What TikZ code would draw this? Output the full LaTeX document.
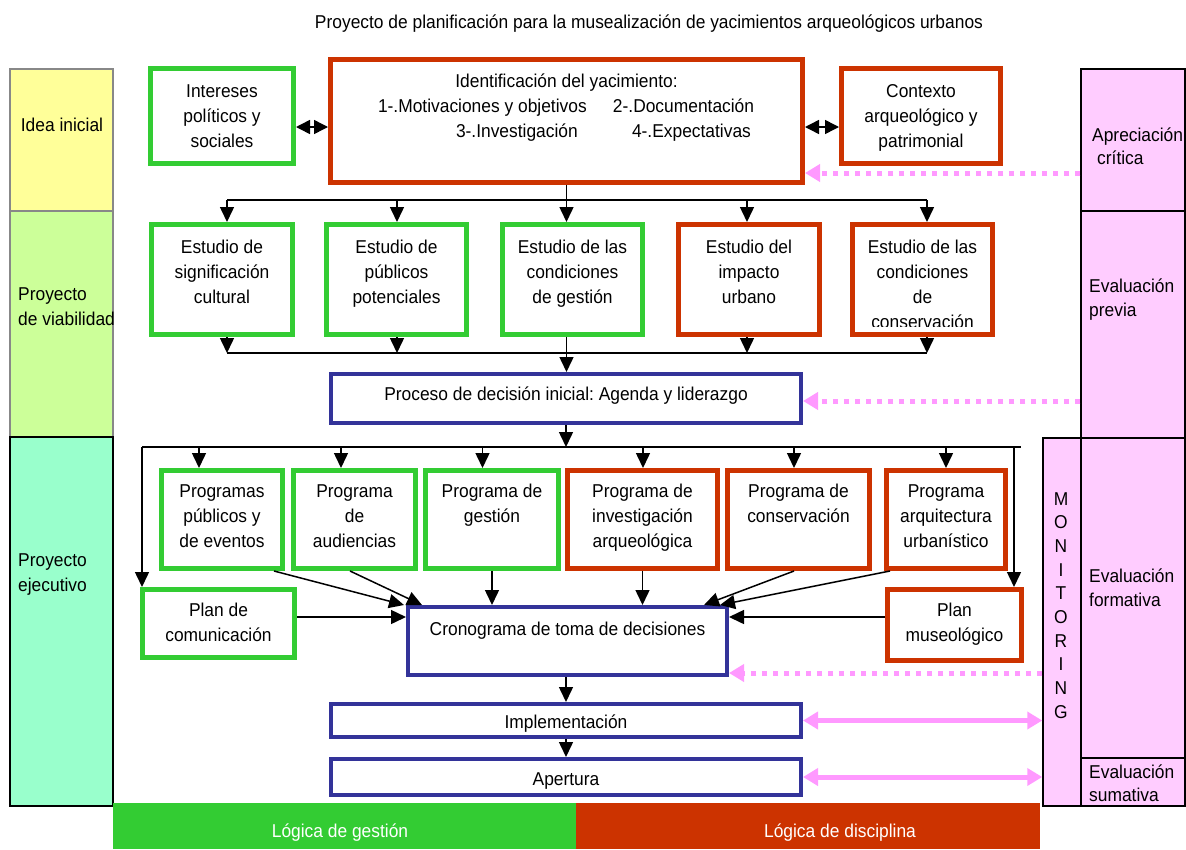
\documentclass[tikz,border=0pt]{standalone}
\usepackage{fontspec}
\setmainfont[FakeStretch=0.935]{Liberation Sans}
\usetikzlibrary{arrows.meta}
\definecolor{cg}{RGB}{51,204,51}
\definecolor{cr}{RGB}{204,51,0}
\definecolor{cb}{RGB}{51,51,153}
\definecolor{cpk}{RGB}{255,153,255}
\definecolor{cpkf}{RGB}{255,204,255}
\definecolor{cy}{RGB}{255,255,153}
\definecolor{clg}{RGB}{204,255,153}
\definecolor{caq}{RGB}{153,255,204}
\definecolor{cgr}{RGB}{136,136,136}
\frenchspacing
\newcommand{\fsz}{\fontsize{18.6pt}{25pt}\selectfont}
\newcommand{\tbx}[4]{\parbox[c][#2pt][t]{#1pt}{\centering\rule{0pt}{#3pt}#4\par}}
\begin{document}
\begin{tikzpicture}[x=1pt,y=-1pt,
  bx/.style={line width=5pt, fill=white, inner sep=0pt, font=\fsz},
  gbox/.style={bx, draw=cg},
  rbox/.style={bx, draw=cr},
  bbox/.style={bx, draw=cb, line width=4pt},
  wire/.style={line width=1.5pt},
  conn/.style={line width=1.5pt, -{Triangle[length=15pt,width=14pt]}},
  dbl/.style={line width=1.5pt, {Triangle[length=14pt,width=14pt]}-{Triangle[length=14pt,width=14pt]}},
  pdot/.style={draw=cpk, line width=5pt, dash pattern=on 5pt off 6pt, -{Triangle[length=15pt,width=17pt]}},
  pdbl/.style={draw=cpk, line width=5pt, {Triangle[length=15pt,width=17pt]}-{Triangle[length=15pt,width=17pt]}},
  colbox/.style={line width=1.5pt, inner sep=0pt},
  lab/.style={font=\fsz, inner sep=0pt, anchor=base west},
]
\useasboundingbox (0,0) rectangle (1186,849);

% title
\node[font=\fsz, inner sep=0pt, anchor=base] (title) at (649,28) {Proyecto de planificación para la musealización de yacimientos arqueológicos urbanos};

% left column
\node[colbox, draw=cgr, fill=cy, minimum width=103pt, minimum height=142pt] (idea) at (61.5,140) {};
\node[colbox, draw=cgr, fill=clg, minimum width=103pt, minimum height=226pt] (viab) at (61.5,324) {};
\node[colbox, draw=black, fill=caq, minimum width=103pt, minimum height=369pt] (ejec) at (61.5,621.5) {};
\node[font=\fsz, inner sep=0pt, anchor=base] (ideat) at (62,131) {Idea inicial};
\node[lab] (viabt) at (18,300) {\parbox[t]{110pt}{Proyecto\\de viabilidad}};
\node[lab] (eject) at (18,566) {\parbox[t]{110pt}{Proyecto\\ejecutivo}};

% right column
\node[colbox, draw=black, fill=cpkf, minimum width=104pt, minimum height=142pt] (apr) at (1133,140) {};
\node[colbox, draw=black, fill=cpkf, minimum width=104pt, minimum height=227pt] (prev) at (1133,324.5) {};
\node[colbox, draw=black, fill=cpkf, minimum width=104pt, minimum height=320pt] (form) at (1133,598) {};
\node[colbox, draw=black, fill=cpkf, minimum width=104pt, minimum height=48pt] (sum) at (1133,782) {};
\node[colbox, draw=black, fill=cpkf, minimum width=38pt, minimum height=368pt] (mon) at (1062,622) {};
\node[lab] (aprt) at (1092,141) {\fontsize{18.6pt}{23pt}\selectfont\parbox[t]{95pt}{Apreciación\\\hspace*{5pt}crítica}};
\node[lab] (prevt) at (1089,292) {\fontsize{18.6pt}{24pt}\selectfont\parbox[t]{95pt}{Evaluación\\previa}};
\node[lab] (formt) at (1089,582) {\fontsize{18.6pt}{24pt}\selectfont\parbox[t]{95pt}{Evaluación\\formativa}};
\node[lab] (sumt) at (1089,778) {\fontsize{18.6pt}{23pt}\selectfont\parbox[t]{95pt}{Evaluación\\sumativa}};
\node[inner sep=0pt, anchor=base] (mont) at (1061,505) {\fontsize{18.6pt}{23.7pt}\selectfont\parbox[t]{24pt}{\centering M\\O\\N\\I\\T\\O\\R\\I\\N\\G}};

% bottom bars
\node[inner sep=0pt, fill=cg, minimum width=463pt, minimum height=46pt] (gest) at (344.5,826) {};
\node[inner sep=0pt, fill=cr, minimum width=464pt, minimum height=46pt] (disc) at (808,826) {};
\node[font=\fsz, text=white, inner sep=0pt, anchor=base] (gestt) at (340,837) {Lógica de gestión};
\node[font=\fsz, text=white, inner sep=0pt, anchor=base] (disct) at (840,837) {Lógica de disciplina};

% top row
\node[gbox] (int) at (222,116) {\tbx{143}{95}{28.5}{Intereses\\políticos y\\sociales}};
\node[rbox] (ident) at (566.5,121) {\parbox[c][123pt][t]{472pt}{\rule{0pt}{27.5pt}\makebox[472pt][c]{Identificación del yacimiento:}\\
\makebox[472pt][l]{\hspace*{47.5pt}\rlap{1-.Motivaciones y objetivos}\hspace*{235pt}\rlap{2-.Documentación}}\\
\makebox[472pt][l]{\hspace*{125.5pt}\rlap{3-.Investigación}\hspace*{176pt}\rlap{4-.Expectativas}}\par}};
\node[rbox] (ctx) at (921,116) {\tbx{159}{95}{28.5}{Contexto\\arqueológico y\\patrimonial}};

% estudios
\node[gbox] (e1) at (222,279.5) {\tbx{141}{110}{28.5}{Estudio de\\significación\\cultural}};
\node[gbox] (e2) at (396.5,279.5) {\tbx{140}{110}{28.5}{Estudio de\\públicos\\potenciales}};
\node[gbox] (e3) at (572.5,279.5) {\tbx{140}{110}{28.5}{Estudio de las\\condiciones\\de gestión}};
\node[rbox] (e4) at (749,279.5) {\tbx{141}{110}{28.5}{Estudio del\\impacto\\urbano}};
\node[rbox] (e5) at (922.5,279.5) {\tbx{140}{110}{28.5}{}};
\begin{scope}
\clip (855,227) rectangle (990,326);
\node[inner sep=0pt, font=\fsz] (e5t) at (e5.center) {\tbx{140}{110}{28.5}{Estudio de las\\condiciones\\de\\conservación}};
\end{scope}

% proceso
\node[bbox] (proc) at (566,398.5) {\tbx{470}{49}{26}{Proceso de decisión inicial: Agenda y liderazgo}};

% programas
\node[gbox] (p1) at (222,519.5) {\tbx{121}{98}{26.5}{Programas\\públicos y\\de eventos}};
\node[gbox] (p2) at (354.5,519.5) {\tbx{122}{98}{26.5}{Programa\\de\\audiencias}};
\node[gbox] (p3) at (492,519.5) {\tbx{133}{98}{26.5}{Programa de\\gestión}};
\node[rbox] (p4) at (642.5,519.5) {\tbx{150}{98}{26.5}{Programa de\\investigación\\arqueológica}};
\node[rbox] (p5) at (798.5,519.5) {\tbx{142}{98}{26.5}{Programa de\\conservación}};
\node[rbox] (p6) at (946,519.5) {\tbx{119}{98}{26.5}{Programa\\arquitectura\\urbanístico}};

\node[gbox] (com) at (218.5,623.5) {\tbx{152}{68}{26.5}{Plan de\\comunicación}};
\node[rbox] (mus) at (954.5,625) {\tbx{134}{71}{26.5}{Plan\\museológico}};
\node[bbox] (cron) at (567.5,641) {\tbx{319}{68}{28}{Cronograma de toma de decisiones}};

\node[bbox] (impl) at (566,720.5) {\tbx{470}{33}{24}{Implementación}};
\node[bbox] (ap) at (566,777) {\tbx{470}{36}{26}{Apertura}};

% helper coordinates
\coordinate (y127) at (0,127);
\coordinate (y173) at (0,173);
\coordinate (y401) at (0,401);
\coordinate (y617) at (0,617);
\coordinate (y673) at (0,673);
\coordinate (b1a) at (227,200);
\coordinate (b1c) at (397,200);
\coordinate (b1d) at (747,200);
\coordinate (b1b) at (927,200);
\coordinate (b2a) at (227,353);
\coordinate (b2c) at (397,353);
\coordinate (b2d) at (747,353);
\coordinate (b2b) at (927,353);
\coordinate (b3a) at (142,447);
\coordinate (b3e) at (1021,447);
\coordinate (b3r) at (1014,447);
\coordinate (q1) at (199,447);
\coordinate (q2) at (341,447);
\coordinate (q3) at (482.5,447);
\coordinate (q4) at (643,447);
\coordinate (q5) at (794,447);
\coordinate (q6) at (946,447);

% top double arrows
\draw[dbl] (int.east |- y127) -- (ident.west |- y127);
\draw[dbl] (ident.east |- y127) -- (ctx.west |- y127);

% bus 1
\draw[wire] (b1a) -- (b1b);
\draw[conn] (ident.south) -- (ident.south |- e3.north);
\draw[conn] (b1a) -- (b1a |- e1.north);
\draw[conn] (b1c) -- (b1c |- e2.north);
\draw[conn] (b1d) -- (b1d |- e4.north);
\draw[conn] (b1b) -- (b1b |- e5.north);

% bus 2
\draw[wire] (b2a) -- (b2b);
\draw[conn] (b2a |- e1.south) -- (b2a);
\draw[conn] (b2c |- e2.south) -- (b2c);
\draw[conn] (b2d |- e4.south) -- (b2d);
\draw[conn] (b2b |- e5.south) -- (b2b);
\draw[conn] (ident.south |- e3.south) -- (ident.south |- proc.north);

% bus 3
\draw[conn] (proc.south) -- (proc.south |- b3a);
\draw[wire] (b3a) -- (b3e);
\draw[conn] (b3a) -- (b3a |- com.north);
\draw[conn] (b3r) -- (b3r |- mus.north);
\draw[conn] (q1) -- (q1 |- p1.north);
\draw[conn] (q2) -- (q2 |- p2.north);
\draw[conn] (q3) -- (q3 |- p3.north);
\draw[conn] (q4) -- (q4 |- p4.north);
\draw[conn] (q5) -- (q5 |- p5.north);
\draw[conn] (q6) -- (q6 |- p6.north);

% into cronograma
\draw[conn] ([xshift=-11pt]p1.south east) -- ([xshift=-2pt]cron.north west);
\draw[conn] ([xshift=-4.5pt]p2.south) -- ([xshift=16pt]cron.north west);
\draw[conn] (p3.south) -- (p3.south |- cron.north);
\draw[conn] (p4.south) -- (p4.south |- cron.north);
\draw[conn] ([xshift=-4.5pt]p5.south) -- ([xshift=-25pt]cron.north east);
\draw[conn] ([xshift=6pt]p6.south west) -- ([xshift=-9pt]cron.north east);
\draw[conn] (com.east |- y617) -- (cron.west |- y617);
\draw[conn] (mus.west |- y617) -- (cron.east |- y617);

% lower chain
\draw[conn] (impl.north |- cron.south) -- (impl.north);
\draw[conn] (impl.south) -- (ap.north);

% pink arrows
\draw[pdot] (apr.west |- y173) -- (ident.east |- y173);
\draw[pdot] (prev.west |- y401) -- (proc.east |- y401);
\draw[pdot] (mon.west |- y673) -- (cron.east |- y673);
\draw[pdbl] (impl.east) -- (impl.east -| mon.west);
\draw[pdbl] (ap.east) -- (ap.east -| mon.west);
\end{tikzpicture}
\end{document}
